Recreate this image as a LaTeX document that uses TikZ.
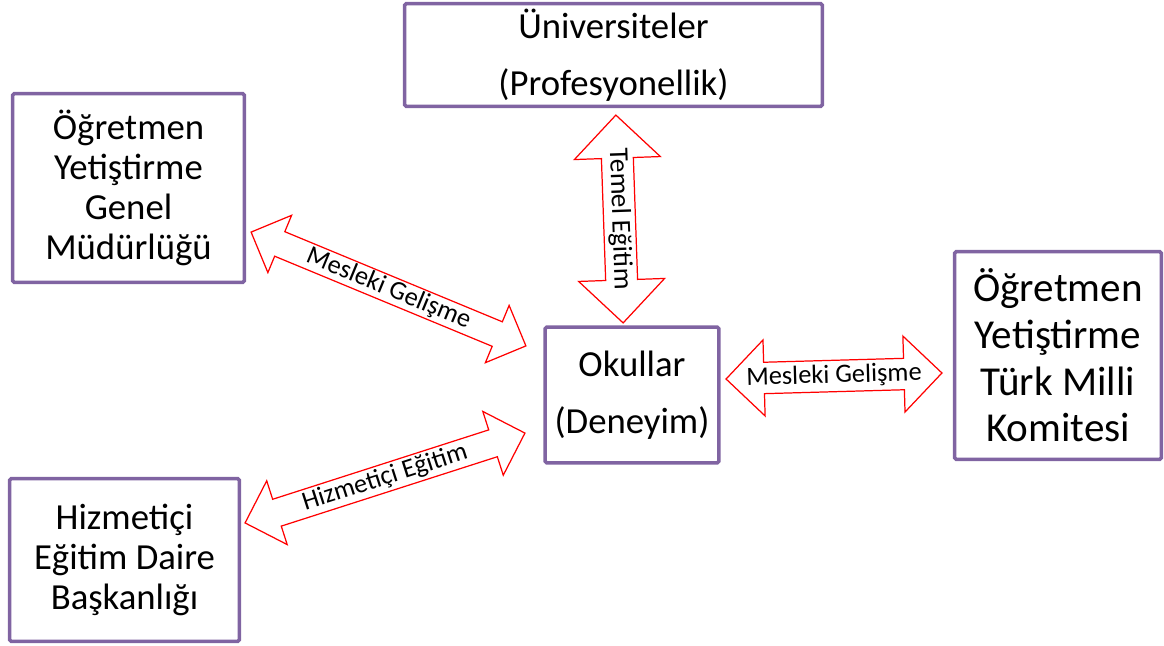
\documentclass[tikz,border=0pt]{standalone}
\usepackage{fontspec}
\setmainfont{Carlito}
\usetikzlibrary{shapes.arrows}
\definecolor{boxpurple}{RGB}{128,100,162}
\tikzset{
  kutu/.style={draw=boxpurple, line width=2pt, rounded corners=1pt, align=center, inner sep=0pt},
  blokok/.style={double arrow, draw=red, line width=0.7pt, fill=white, inner sep=0pt,
    double arrow head extend=#1, font=\fontsize{15}{16}\selectfont},
}

\begin{document}
\begin{tikzpicture}[x=0.02cm, y=-0.02cm]
\useasboundingbox (0,0) rectangle (1164,646);
% kutular
\node[kutu, minimum width=8.36cm, minimum height=2.06cm, font=\fontsize{20.9}{32.3}\selectfont]
  (uni) at (613.5,55) {Üniversiteler\\(Profesyonellik)};
\node[kutu, minimum width=4.64cm, minimum height=3.78cm, font=\fontsize{20.9}{22.7}\selectfont]
  (ogm) at (128.5,188) {Öğretmen\\Yetiştirme\\Genel\\Müdürlüğü};
\node[kutu, minimum width=3.48cm, minimum height=2.72cm, font=\fontsize{20.9}{32.3}\selectfont]
  (okul) at (632,395) {Okullar\\(Deneyim)};
\node[kutu, minimum width=4.14cm, minimum height=4.16cm, font=\fontsize{23.4}{26.6}\selectfont]
  (tmk) at (1058,355.5) {Öğretmen\\Yetiştirme\\Türk Milli\\Komitesi};
\node[kutu, minimum width=4.6cm, minimum height=3.26cm, font=\fontsize{20.9}{23}\selectfont]
  (hedb) at (124.5,560) {Hizmetiçi\\Eğitim Daire\\Başkanlığı};
% oklar
\node[blokok=0.42cm, minimum height=4.16cm, minimum width=1.72cm, rotate=-88,
  font=\fontsize{15.5}{17}\selectfont] (temel) at (619.5,219) {Temel Eğitim};
\node[blokok=0.32cm, minimum height=5.95cm, minimum width=1.24cm, rotate=-22.5]
  (mesl1) at (388.5,289) {Mesleki Gelişme};
\node[blokok=0.33cm, minimum height=5.88cm, minimum width=1.34cm, rotate=17.8]
  (hizm) at (385,478) {Hizmetiçi Eğitim};
\node[blokok=0.34cm, minimum height=4.32cm, minimum width=1.52cm, rotate=1.6]
  (mesl2) at (834,376) {Mesleki Gelişme};
\end{tikzpicture}
\end{document}
